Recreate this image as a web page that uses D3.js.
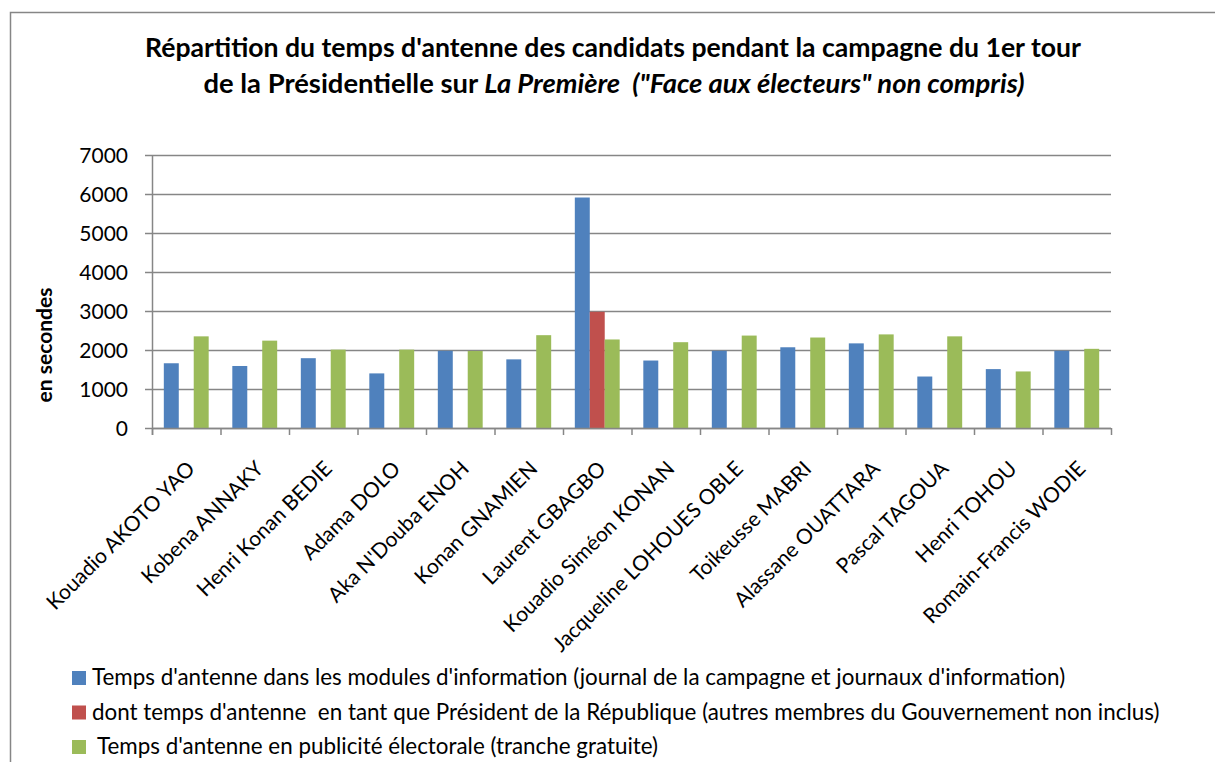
<!DOCTYPE html>
<html>
  <head>
    <meta charset="utf-8" />
    <title>Répartition du temps d'antenne des candidats</title>
    <script src="https://d3js.org/d3.v7.min.js"></script>
    <style>
      body { margin: 0; background: #fff; }
      svg { display: block; }
      text { font-family: Lato, "Open Sans", sans-serif; fill: #000; }
    </style>
  </head>
  <body>
    <svg id="chart"></svg>
    <script>
      // data
      const candidates = [
        "Kouadio AKOTO YAO", "Kobena ANNAKY", "Henri Konan BEDIE", "Adama DOLO",
        "Aka N'Douba ENOH", "Konan GNAMIEN", "Laurent GBAGBO", "Kouadio Siméon KONAN",
        "Jacqueline LOHOUES OBLE", "Toikeusse MABRI", "Alassane OUATTARA",
        "Pascal TAGOUA", "Henri TOHOU", "Romain-Francis WODIE"
      ];
      const infoModules = [1660, 1590, 1790, 1400, 1980, 1760, 5910, 1730, 1980, 2070, 2170, 1320, 1510, 1980];
      const asPresident = [null, null, null, null, null, null, 2980, null, null, null, null, null, null, null];
      const advertising = [2350, 2240, 2010, 2010, 1975, 2380, 2270, 2200, 2370, 2320, 2400, 2350, 1450, 2030];
      const yTicks = [0, 1000, 2000, 3000, 4000, 5000, 6000, 7000];
      const seriesNames = [
        "Temps d'antenne dans les modules d'information (journal de la campagne et journaux d'information)",
        "dont temps d'antenne  en tant que Président de la République (autres membres du Gouvernement non inclus)",
        " Temps d'antenne en publicité électorale (tranche gratuite)"
      ];
      const colors = ["#4f81bd", "#c0504d", "#9bbb59"];

      const series = [infoModules, asPresident, advertising];

      const W = 1215, H = 762;
      const svg = d3.select("#chart").attr("width", W).attr("height", H);

      // outer chart frame
      svg.append("rect")
        .attr("x", 10.5).attr("y", 12.5)
        .attr("width", W).attr("height", H)
        .attr("fill", "#fff").attr("stroke", "#868686").attr("stroke-width", 1.5);

      const plotLeft = 152, plotRight = 1111, plotTop = 155, plotBottom = 428;

      var x = d3.scaleBand().domain(candidates).range([plotLeft, plotRight]).padding(0);
      var xs = d3.scaleBand().domain([0, 1, 2]).range([0, x.bandwidth()])
        .paddingInner(0).paddingOuter(0.79);
      var y = d3.scaleLinear().domain([0, 7000]).range([plotBottom, plotTop]);

      // gridlines + y ticks
      svg.append("g")
        .selectAll("line")
        .data(yTicks)
        .join("line")
        .attr("x1", plotLeft - 7).attr("x2", plotRight)
        .attr("y1", d => Math.round(y(d)) + 0.5).attr("y2", d => Math.round(y(d)) + 0.5)
        .attr("stroke", "#868686").attr("stroke-width", 1.5);

      svg.append("g")
        .selectAll("text")
        .data(yTicks)
        .join("text")
        .attr("x", 128).attr("y", d => y(d))
        .attr("dy", "0.36em")
        .attr("text-anchor", "end")
        .attr("font-size", 21)
        .text(d => d);

      // y axis line
      svg.append("line")
        .attr("x1", plotLeft + 0.5).attr("x2", plotLeft + 0.5)
        .attr("y1", plotTop).attr("y2", plotBottom + 7)
        .attr("stroke", "#868686").attr("stroke-width", 1.5);

      // bars
      series.forEach(function (vals, s) {
        svg.append("g")
          .selectAll("rect")
          .data(candidates.map((c, i) => ({ c: c, v: vals[i] })).filter(d => d.v != null))
          .join("rect")
          .attr("x", d => x(d.c) + xs(s))
          .attr("y", d => y(d.v))
          .attr("width", xs.bandwidth())
          .attr("height", d => plotBottom - y(d.v))
          .attr("fill", colors[s]);
      });

      // x axis line and category ticks
      svg.append("line")
        .attr("x1", plotLeft).attr("x2", plotRight)
        .attr("y1", plotBottom + 0.5).attr("y2", plotBottom + 0.5)
        .attr("stroke", "#868686").attr("stroke-width", 1.5);

      svg.append("g")
        .selectAll("line")
        .data(candidates.concat(["end"]))
        .join("line")
        .attr("x1", (d, i) => plotLeft + i * x.step() + 0.5)
        .attr("x2", (d, i) => plotLeft + i * x.step() + 0.5)
        .attr("y1", plotBottom).attr("y2", plotBottom + 7)
        .attr("stroke", "#868686").attr("stroke-width", 1.5);

      // rotated category labels
      svg.append("g")
        .selectAll("text")
        .data(candidates)
        .join("text")
        .attr("transform", d => "translate(" + (x(d) + x.bandwidth() / 2 + 10) + ",470) rotate(-45)")
        .attr("text-anchor", "end")
        .attr("font-size", 21)
        .text(d => d);

      // y axis title
      svg.append("text")
        .attr("transform", "translate(52,345) rotate(-90)")
        .attr("text-anchor", "middle")
        .attr("font-size", 21)
        .attr("font-weight", "bold")
        .text("en secondes");

      // title
      svg.append("text")
        .attr("x", 613).attr("y", 57)
        .attr("text-anchor", "middle")
        .attr("font-size", 26.6)
        .attr("font-weight", "bold")
        .text("Répartition du temps d'antenne des candidats pendant la campagne du 1er tour");

      var t2 = svg.append("text")
        .attr("x", 614).attr("y", 93)
        .attr("text-anchor", "middle")
        .attr("font-size", 27.4)
        .attr("font-weight", "bold")
        .attr("xml:space", "preserve");
      t2.append("tspan").text("de la Présidentielle sur ");
      t2.append("tspan").attr("font-style", "italic").text("La Première  (\"Face aux électeurs\" non compris)");

      // legend
      var legend = svg.append("g")
        .selectAll("g")
        .data(seriesNames)
        .join("g")
        .attr("transform", (d, i) => "translate(72," + (671 + i * 34.5) + ")");

      legend.append("rect")
        .attr("width", 14).attr("height", 14)
        .attr("fill", (d, i) => colors[i]);

      legend.append("text")
        .attr("x", 20).attr("y", 14)
        .attr("font-size", 22.4)
        .attr("xml:space", "preserve")
        .text(d => d);
    </script>
  </body>
</html>
